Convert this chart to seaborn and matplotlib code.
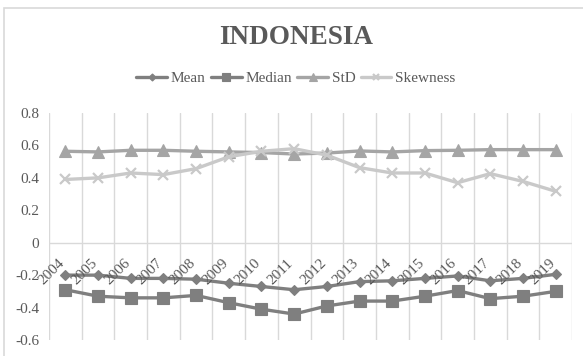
import matplotlib
matplotlib.use("Agg")
import matplotlib.pyplot as plt
from matplotlib.patches import Rectangle
import seaborn as sns
import pandas as pd

years = ["2004", "2005", "2006", "2007", "2008", "2009", "2010", "2011",
         "2012", "2013", "2014", "2015", "2016", "2017", "2018", "2019"]
mean = [-0.20, -0.20, -0.22, -0.22, -0.225, -0.25, -0.27, -0.29,
        -0.27, -0.24, -0.235, -0.22, -0.205, -0.235, -0.22, -0.195]
median = [-0.29, -0.33, -0.34, -0.34, -0.325, -0.37, -0.41, -0.44,
          -0.39, -0.36, -0.36, -0.33, -0.295, -0.345, -0.33, -0.30]
std = [0.564, 0.56, 0.57, 0.57, 0.564, 0.56, 0.556, 0.547,
       0.553, 0.566, 0.56, 0.568, 0.57, 0.574, 0.574, 0.574]
skewness = [0.39, 0.40, 0.43, 0.42, 0.457, 0.53, 0.564, 0.58,
            0.54, 0.463, 0.43, 0.43, 0.37, 0.426, 0.378, 0.317]
series_names = ["Mean", "Median", "StD", "Skewness"]
y_ticks = [-0.6, -0.4, -0.2, 0, 0.2, 0.4, 0.6, 0.8]

sns.set_theme(style="white")
plt.rcParams["font.family"] = ["Liberation Serif", "DejaVu Serif"]

rows = []
for name, vals in zip(series_names, [mean, median, std, skewness]):
    for i, v in enumerate(vals):
        rows.append({"pos": i, "year": years[i], "value": v, "series": name})
df = pd.DataFrame(rows)

colors = {"Mean": "#7f7f7f", "Median": "#7f7f7f", "StD": "#a5a5a5", "Skewness": "#c9c9c9"}
markers = {"Mean": "D", "Median": "s", "StD": "^", "Skewness": "x"}
msizes = {"Mean": 5.5, "Median": 8, "StD": 8, "Skewness": 7}

fig = plt.figure(figsize=(5.83, 3.56), dpi=100)
ax = fig.add_axes([49 / 583, 1 - 340 / 356, (572 - 49) / 583, (340 - 113) / 356])

for name in series_names:
    sub = df[df["series"] == name]
    sns.lineplot(data=sub, x="pos", y="value", ax=ax, color=colors[name],
                 marker=markers[name], markersize=msizes[name],
                 markeredgecolor=colors[name], markeredgewidth=1.6 if name == "Skewness" else 0.8,
                 linewidth=2.4, label=name, legend=False)

ax.set_xlim(-0.5, len(years) - 0.5)
ax.set_ylim(-0.6, 0.8)
ax.set_yticks(y_ticks)
ax.set_yticklabels(["%g" % t for t in y_ticks], fontsize=11, color="#595959")
ax.tick_params(axis="y", length=0, pad=7)
ax.set_xticks([])
ax.set_xlabel("")
ax.set_ylabel("")
for s in ax.spines.values():
    s.set_visible(False)

# vertical gridlines between categories and the zero axis line
for k in range(len(years) + 1):
    ax.axvline(k - 0.5, color="#d9d9d9", lw=1, zorder=0)
ax.axhline(0, color="#d9d9d9", lw=1, zorder=0)

# category labels rotated next to the zero line
for i, yr in enumerate(years):
    ax.text(i + 0.06, -0.085, yr, rotation=45, ha="right", va="top",
            fontsize=11, color="#595959")

fig.text(296 / 583, 1 - 37 / 356, "INDONESIA", ha="center", va="center",
         fontsize=19.5, fontweight="bold", color="#595959")

handles, labels = ax.get_legend_handles_labels()
fig.legend(handles, labels, loc="center", bbox_to_anchor=(296 / 583, 1 - 78 / 356),
           ncol=4, frameon=False, fontsize=11, handlelength=2.0, handletextpad=0.25,
           columnspacing=0.35, markerscale=0.65, labelcolor="#595959")

fig.patches.append(Rectangle((4 / 583, -0.1), 1.2, 1 - 8 / 356 + 0.1,
                             transform=fig.transFigure, fill=False,
                             edgecolor="#d9d9d9", lw=1.2))

fig.savefig("out.png", dpi=100)
